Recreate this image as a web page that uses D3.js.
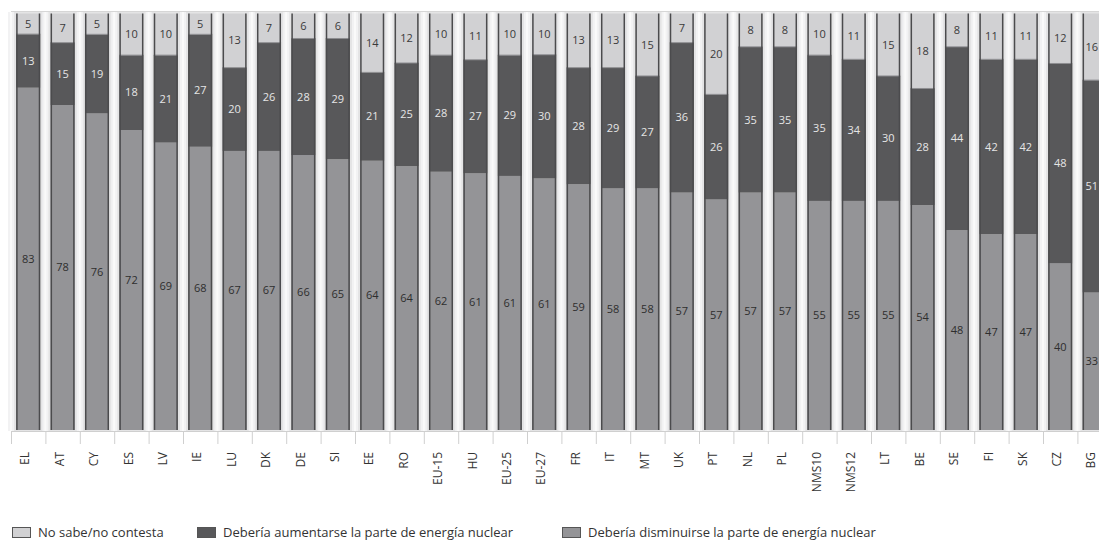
<!DOCTYPE html>
<html>
<head>
<meta charset="utf-8">
<script src="https://cdn.jsdelivr.net/npm/d3@7"></script>
<style>
  html, body { margin: 0; padding: 0; background: #ffffff; }
  svg { display: block; font-family: "Open Sans", "DejaVu Sans", sans-serif; }
</style>
</head>
<body>
<svg id="chart" width="1099" height="542"></svg>
<script>
const categories = ["EL","AT","CY","ES","LV","IE","LU","DK","DE","SI","EE","RO","EU-15","HU","EU-25","EU-27","FR","IT","MT","UK","PT","NL","PL","NMS10","NMS12","LT","BE","SE","FI","SK","CZ","BG"];
const disminuir = [83,78,76,72,69,68,67,67,66,65,64,64,62,61,61,61,59,58,58,57,57,57,57,55,55,55,54,48,47,47,40,33];
const aumentar  = [13,15,19,18,21,27,20,26,28,29,21,25,28,27,29,30,28,29,27,36,26,35,35,35,34,30,28,44,42,42,48,51];
const noSabe    = [5,7,5,10,10,5,13,7,6,6,14,12,10,11,10,10,13,13,15,7,20,8,8,10,11,15,18,8,11,11,12,16];

const seriesNames = ["Debería disminuirse la parte de energía nuclear", "Debería aumentarse la parte de energía nuclear", "No sabe/no contesta"];
const legendOrder = ["No sabe/no contesta", "Debería aumentarse la parte de energía nuclear", "Debería disminuirse la parte de energía nuclear"];

const colors = {
  "No sabe/no contesta": "#d1d1d3",
  "Debería aumentarse la parte de energía nuclear": "#58585a",
  "Debería disminuirse la parte de energía nuclear": "#949497"
};
const textColors = {
  "No sabe/no contesta": "#3a3a3a",
  "Debería aumentarse la parte de energía nuclear": "#e6e6e6",
  "Debería disminuirse la parte de energía nuclear": "#2e2e2e"
};

const rows = categories.map((c, i) => ({
  cat: c,
  [seriesNames[0]]: disminuir[i],
  [seriesNames[1]]: aumentar[i],
  [seriesNames[2]]: noSabe[i]
}));

const W = 1099;
const svg = d3.select("#chart");
const step = 34.4;
const x0 = 11;
const x = d3.scaleBand().domain(categories).range([x0, x0 + step * categories.length]).paddingInner(0.3).paddingOuter(0.15).align(0.5);
const y = d3.scaleLinear().domain([0, 1]).range([430, 13.5]);

const stack = d3.stack().keys(seriesNames).offset(d3.stackOffsetExpand);
const stacked = stack(rows);

// plot background
svg.append("rect").attr("x", x0).attr("y", 11).attr("width", W - x0).attr("height", 420)
  .attr("fill", "#e4e4e5");
svg.append("line").attr("x1", x0).attr("x2", W).attr("y1", 11.5).attr("y2", 11.5).attr("stroke", "#d6d6d6");

// lighter stripes at band boundaries
const boundaries = d3.range(categories.length + 1).map(i => x0 + step * i);
svg.append("g").selectAll("rect").data(boundaries).join("rect")
  .attr("x", d => d - 3).attr("y", 12).attr("width", 6).attr("height", 419)
  .attr("fill", "#f2f2f3");
svg.append("g").selectAll("rect").data(boundaries).join("rect")
  .attr("x", d => d - 1).attr("y", 12).attr("width", 2).attr("height", 419)
  .attr("fill", "#fafafa");

// bars
const gBars = svg.append("g");
stacked.forEach(layer => {
  gBars.append("g").attr("fill", colors[layer.key])
    .selectAll("rect").data(layer).join("rect")
    .attr("x", d => x(d.data.cat))
    .attr("width", x.bandwidth())
    .attr("y", d => y(d[1]))
    .attr("height", d => y(d[0]) - y(d[1]));
});
// separator line under the light segment
gBars.append("g").selectAll("line").data(stacked[2]).join("line")
  .attr("x1", d => x(d.data.cat)).attr("x2", d => x(d.data.cat) + x.bandwidth())
  .attr("y1", d => y(d[0])).attr("y2", d => y(d[0]))
  .attr("stroke", "#8d8d90").attr("stroke-width", 1);
// bar side borders
gBars.append("g").selectAll("path").data(categories).join("path")
  .attr("d", c => {
    const l = x(c) + 0.75, r = x(c) + x.bandwidth() - 0.75;
    return `M${l},${y(1)}V${y(0)}M${r},${y(1)}V${y(0)}`;
  })
  .attr("fill", "none").attr("stroke", "#4b4b4d").attr("stroke-width", 1.5);

// value labels (kept inside the picture at the right edge)
const gLabels = svg.append("g").attr("font-size", 11).attr("text-anchor", "middle");
stacked.forEach(layer => {
  gLabels.append("g").attr("fill", textColors[layer.key])
    .selectAll("text").data(layer).join("text")
    .attr("x", d => x(d.data.cat) + x.bandwidth() / 2)
    .attr("y", d => (y(d[0]) + y(d[1])) / 2)
    .attr("dy", "0.35em")
    .text(d => d.data[layer.key])
    .each(function () {
      const bb = this.getBBox();
      if (bb.x + bb.width > W - 1) {
        d3.select(this).attr("x", +d3.select(this).attr("x") - (bb.x + bb.width - (W - 1)));
      }
    });
});

// x axis
svg.append("line").attr("x1", x0).attr("x2", W).attr("y1", 431.5).attr("y2", 431.5).attr("stroke", "#cfcfcf");
svg.append("g").selectAll("line").data(boundaries).join("line")
  .attr("x1", d => d + 0.5).attr("x2", d => d + 0.5).attr("y1", 431).attr("y2", 444)
  .attr("stroke", "#cfcfcf");
svg.append("g").attr("font-size", 12).attr("fill", "#333").attr("text-anchor", "end")
  .selectAll("text").data(categories).join("text")
  .attr("transform", c => `translate(${Math.min(x(c) + x.bandwidth() / 2 - 3, W - 8)},452) rotate(-90)`)
  .attr("dy", "0.35em")
  .text(c => c);

// legend
const legendX = [12, 197, 562];
const lg = svg.append("g").attr("font-size", 13).attr("fill", "#333");
legendOrder.forEach((name, i) => {
  lg.append("rect").attr("x", legendX[i] + 0.5).attr("y", 527.5).attr("width", 18).attr("height", 10)
    .attr("fill", colors[name]).attr("stroke", "#555").attr("stroke-width", 1);
  lg.append("text").attr("x", legendX[i] + 26).attr("y", 532.5).attr("dy", "0.35em").text(name);
});
</script>
</body>
</html>
